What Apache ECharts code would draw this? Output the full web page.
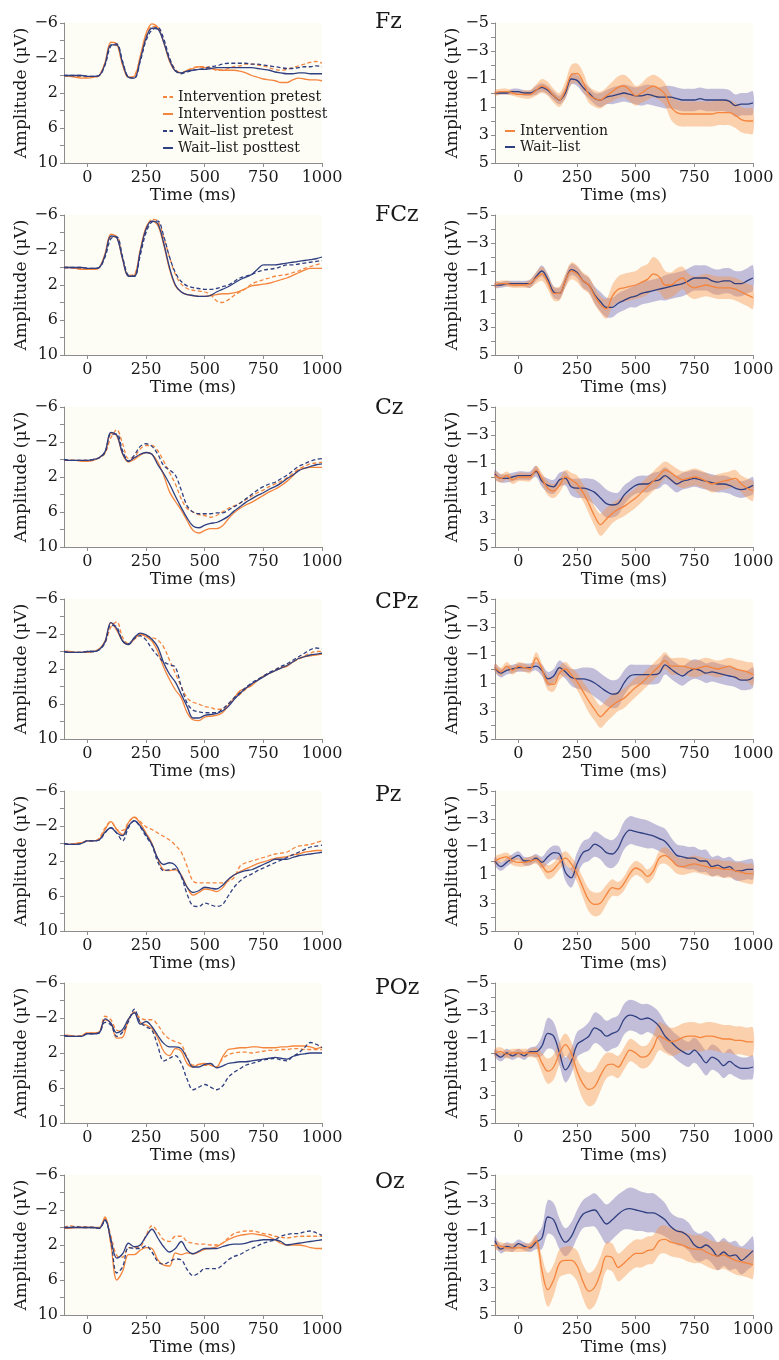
<!DOCTYPE html>
<html>
<head>
<meta charset="utf-8">
<title>ERP waveforms</title>
<script src="https://cdn.jsdelivr.net/npm/echarts@6/dist/echarts.min.js"></script>
<style>
  html, body { margin: 0; padding: 0; background: #fff; }
  #chart { width: 779px; height: 1360px; }
</style>
</head>
<body>
<div id="chart"></div>
<script>
// time points (ms)
const times = [-100, -75, -50, -25, 0, 25, 50, 75, 100, 125, 150, 175, 200, 225, 250, 275, 300, 325, 350, 375, 400,
  425, 450, 475, 500, 525, 550, 575, 600, 625, 650, 675, 700, 725, 750, 775, 800, 825, 850, 875, 900, 925, 950, 975, 1000];

const electrodes = ['Fz', 'FCz', 'Cz', 'CPz', 'Pz', 'POz', 'Oz'];
const xTicks = [0, 250, 500, 750, 1000];
const leftYLabels = [-6, -2, 2, 6, 10];
const leftYTicks = [-6, -4, -2, 0, 2, 4, 6, 8, 10];
const rightYLabels = [-5, -3, -1, 1, 3, 5];
const rightYTicks = [-5, -4, -3, -2, -1, 0, 1, 2, 3, 4, 5];
const groupNames = ['Intervention pretest', 'Intervention posttest', 'Wait–list pretest', 'Wait–list posttest'];
const diffNames = ['Intervention', 'Wait–list'];

// ---- left column: group averages (µV) ----
const fzIntPre = [0,0.1,0.1,0.1,0.2, 0.2,0,-1.4,-3.5, -3.4,-1.2,0.2,0, -2.0,-4.4,-5.6,-5.5, -3.9,-1.9,-0.7,-0.3, -0.6,-0.9,-1.0,-1.0, -0.9,-0.6,-0.6,-0.8, -1.0,-1.1,-1.3,-1.3, -1.2,-1.1,-0.9,-0.7, -0.6,-0.7,-0.9,-1.1, -1.3,-1.5,-1.6,-1.4];
const fzIntPost = [0,0.1,0.2,0.3,0.3, 0.2,0,-1.5,-3.8, -3.6,-1.2,0.2,0.1, -2.2,-4.8,-5.9,-5.5, -3.8,-1.6,-0.5,-0.3, -0.6,-0.8,-1.0,-0.9, -0.8,-0.7,-0.6,-0.6, -0.6,-0.5,-0.3,0, 0.2,0.4,0.5,0.6, 0.8,0.8,0.5,0.3, 0.4,0.5,0.5,0.6];
const fzWaitPre = [0,0,0,0,0.1, 0.1,0,-1.2,-3.4, -3.6,-1.6,0.2,0.3, -1.6,-4.0,-5.2,-5.5, -4.2,-2.0,-0.6,-0.2, -0.4,-0.6,-0.7,-0.8, -1.0,-1.1,-1.3,-1.4, -1.4,-1.4,-1.4,-1.3, -1.3,-1.2,-1.1,-1.0, -0.9,-0.8,-0.8,-0.9, -1.0,-1.0,-1.1,-1.0];
const fzWaitPost = [0,0,0,0,0.1, 0.1,0,-1.3,-3.5, -3.5,-1.4,0.2,0.3, -1.8,-4.3,-5.4,-5.3, -3.8,-1.8,-0.5,-0.3, -0.5,-0.6,-0.7,-0.7, -0.8,-0.9,-0.9,-0.9, -0.9,-0.9,-0.9,-0.9, -0.8,-0.7,-0.6,-0.4, -0.3,-0.2,-0.2,-0.3, -0.3,-0.2,-0.2,-0.2];

const fczIntPre = [0,0,0.1,0.1,0.2, 0.2,0,-1.3,-3.5, -3.5,-1.0,0.9,0.8, -1.8,-4.3,-5.5,-5.3, -3.4,-1.2,0.8,1.9, 2.4,2.6,2.7,2.8, 3.1,3.8,4.0,3.7, 3.2,2.8,2.4,1.9, 1.6,1.4,1.2,1.0, 0.9,0.8,0.6,0.4, 0.1,-0.1,-0.3,-0.5];
const fczIntPost = [0,0,0.1,0.2,0.2, 0.2,0,-1.6,-3.8, -3.5,-0.9,1.0,0.9, -2.0,-4.6,-5.3,-4.8, -2.6,0.2,2.1,2.8, 3.1,3.2,3.3,3.3, 3.2,3.1,3.0,3.0, 2.9,2.7,2.4,2.1, 2.0,1.9,1.8,1.6, 1.4,1.2,0.9,0.6, 0.3,0.1,0.1,0.1];
const fczWaitPre = [0,0,0,0,0.1, 0.1,0,-1.2,-3.3, -3.5,-1.2,0.9,1.0, -1.4,-4.0,-5.2,-5.3, -3.6,-1.2,0.6,1.6, 2.1,2.3,2.4,2.5, 2.5,2.4,2.2,2.0, 1.6,1.2,1.0,0.8, 0.5,0.3,0.2,0.1, -0.1,-0.3,-0.3,-0.4, -0.5,-0.6,-0.7,-0.8];
const fczWaitPost = [0,0,0,0,0.1, 0.1,0,-1.4,-3.6, -3.4,-1.0,1.0,1.0, -1.8,-4.4,-5.3,-5.0, -2.8,0,2.0,2.8, 3.1,3.2,3.3,3.3, 3.2,2.8,2.5,2.2, 1.8,1.4,1.1,0.8, 0.2,-0.3,-0.3,-0.3, -0.4,-0.5,-0.6,-0.7, -0.8,-0.9,-1.0,-1.2];

const czIntPre = [0,0.1,0.1,0.1,0.1, 0,-0.2,-0.7,-2.5, -3.4,-1.8,-0.1,-0.3, -1.2,-1.6,-1.6,-1.0, 0.2,1.5,2.8,4.5, 5.6,6.0,6.3,6.4, 6.6,6.4,6.0,5.6, 5.3,5.0,4.6,4.2, 3.8,3.5,3.1,2.8, 2.5,2.1,1.6,1.1, 0.8,0.5,0.4,0.3];
const czIntPost = [0.1,0.1,0.1,0.2,0.2, 0.1,-0.2,-0.8,-3.0, -2.7,-0.6,0.3,0, -0.5,-0.8,-0.6,0.3, 1.8,3.7,4.8,5.8, 7.0,8.1,8.4,8.1, 7.9,7.9,7.6,6.8, 6.1,5.6,5.2,4.9, 4.5,4.1,3.7,3.4, 3.0,2.5,1.9,1.2, 1.0,0.9,0.9,0.9];
const czWaitPre = [0,0.1,0.1,0.1,0.1, 0,-0.2,-0.8,-2.9, -2.9,-1.0,0.2,-0.5, -1.5,-1.8,-1.5,-0.6, 0.7,1.2,1.8,3.5, 5.3,6.0,6.2,6.2, 6.2,6.1,6.1,5.8, 5.4,5.0,4.5,4.0, 3.5,3.1,2.8,2.6, 2.2,1.8,1.3,0.8, 0.5,0.2,0,-0.1];
const czWaitPost = [0,0.1,0.1,0.1,0.1, 0,-0.2,-0.9,-3.1, -2.8,-0.7,0.2,-0.2, -0.6,-0.8,-0.6,0.6, 1.6,2.8,4.2,5.5, 6.7,7.6,7.8,7.5, 7.3,7.2,6.9,6.5, 5.9,5.4,4.9,4.5, 4.1,3.8,3.4,3.1, 2.7,2.2,1.8,1.3, 1.0,0.8,0.6,0.5];

const cpzIntPre = [0,0,0.1,0.1,0, 0,-0.3,-1.0,-2.8, -3.4,-1.6,-0.9,-1.5, -2.0,-1.8,-1.6,-1.3, -0.5,1.0,2.5,4.0, 5.3,5.8,6.0,6.3, 6.4,6.6,6.6,6.0, 5.4,4.9,4.3,3.8, 3.3,2.9,2.5,2.1, 1.8,1.6,1.2,0.9, 0.5,0.2,0,0];
const cpzIntPost = [0,0,0.1,0.1,0.1, 0,-0.3,-1.2,-3.3, -2.4,-1.2,-0.8,-1.4, -2.0,-1.7,-1.2,0, 1.8,3.2,4.4,5.3, 7.0,7.8,7.9,7.5, 7.4,7.3,7.0,6.2, 5.3,4.5,4.2,3.9, 3.3,2.8,2.5,2.2, 1.9,1.7,1.2,0.8, 0.6,0.5,0.4,0.3];
const cpzWaitPre = [0,0.1,0.1,0.1,0, 0,-0.2,-1.0,-3.0, -2.8,-1.2,-0.9,-1.5, -1.8,-1.3,-0.3,0.5, 1.2,1.5,1.8,4.0, 5.9,6.7,6.9,7.0, 7.0,7.0,6.6,6.0, 5.3,4.7,4.1,3.6, 3.2,2.8,2.4,2.1, 1.7,1.4,1.0,0.6, 0.2,-0.2,-0.4,-0.3];
const cpzWaitPost = [0,0.1,0.1,0.1,0, 0,-0.2,-1.1,-3.3, -2.6,-1.2,-0.8,-1.6, -2.1,-1.9,-1.4,-0.5, 1.3,2.6,3.5,4.9, 6.3,7.6,7.6,7.3, 7.2,7.1,6.8,6.3, 5.5,4.8,4.2,3.7, 3.3,2.9,2.5,2.2, 1.9,1.6,1.2,0.8, 0.6,0.4,0.3,0.2];

const pzIntPre = [0,0.1,0,-0.1,-0.3, -0.3,-0.6,-1.8,-2.5, -1.6,-1.5,-2.4,-3.0, -2.5,-1.9,-1.6,-1.2, -0.8,-0.4,0.2,1.0, 2.6,4.3,4.5,4.5, 4.5,4.5,4.5,4.3, 3.9,2.6,2.2,2.0, 1.8,1.6,1.4,1.2, 1.1,1.0,0.6,0.3, 0.2,0.1,-0.1,-0.3];
const pzIntPost = [0,0.1,0,-0.1,-0.3, -0.3,-0.5,-1.6,-2.5, -1.6,-1.0,-2.4,-3.0, -2.3,-1.2,0,1.8, 3.0,3.1,3.0,3.6, 5.0,5.9,5.6,5.2, 5.3,5.5,5.1,4.2, 3.6,3.2,2.9,2.6, 2.3,2.1,1.9,1.7, 1.6,1.5,1.3,1.2, 1.0,0.9,0.8,0.8];
const pzWaitPre = [0,0.1,0.1,0,-0.3, -0.3,-0.4,-1.2,-1.8, -1.2,-0.3,-1.8,-2.6, -1.9,-0.8,0.2,2.1, 3.1,3.0,2.9,3.8, 5.8,7.1,7.2,6.8, 7.0,7.2,7.0,6.0, 5.0,4.3,3.8,3.5, 3.1,2.8,2.5,2.2, 1.9,1.6,1.3,1.0, 0.7,0.4,0.3,0.2];
const pzWaitPost = [0,0.1,0.1,0,-0.3, -0.3,-0.4,-1.3,-1.8, -1.2,-0.9,-2.0,-2.6, -2.0,-1.0,0.1,1.7, 2.4,2.2,2.5,3.7, 5.0,5.6,5.4,5.0, 5.1,5.2,4.8,4.1, 3.6,3.3,3.1,3.0, 2.7,2.4,2.1,1.8, 1.8,1.8,1.6,1.4, 1.3,1.2,1.1,1.0];

const pozIntPre = [0,0,0.1,0,-0.3, -0.3,-0.4,-2.2,-1.8, -0.6,-0.5,-1.8,-2.6, -2.0,-1.8,-1.8,-1.2, -0.2,0.4,0.7,1.0, 2.5,3.4,3.3,3.4, 3.4,3.6,2.7,2.2, 2.0,1.9,1.9,2.0, 1.9,1.8,1.7,1.7, 1.6,1.6,1.5,1.5, 1.6,1.6,1.6,1.6];
const pozIntPost = [0,0,0.1,0,-0.3, -0.3,-0.4,-1.8,-1.4, 0.3,0.2,-1.8,-2.7, -1.5,-1.2,-0.8,0.3, 1.8,2.3,1.5,1.8, 3.2,3.6,3.3,3.2, 3.4,3.6,2.5,1.6, 1.5,1.4,1.4,1.3, 1.3,1.4,1.4,1.4, 1.3,1.3,1.2,1.2, 1.2,1.3,1.5,1.3];
const pozWaitPre = [0,0.1,0.1,0.1,-0.2, -0.2,-0.3,-1.5,-1.2, 0.1,-0.4,-1.6,-3.0, -1.5,-1.0,-0.6,1.2, 2.9,2.6,2.3,3.2, 5.0,6.2,5.9,5.6, 5.9,6.2,5.8,4.8, 4.2,3.8,3.4,3.2, 3.0,2.8,2.7,2.6, 2.8,2.9,2.4,2.0, 1.4,0.8,1.0,1.4];
const pozWaitPost = [0,0.1,0.1,0.1,-0.2, -0.2,-0.3,-1.9,-1.4, -0.3,-0.7,-1.9,-2.6, -1.3,-1.6,-1.0,0, 0.9,1.3,1.3,1.5, 2.6,3.6,3.6,3.3, 3.2,3.7,3.5,3.2, 3.1,3.0,3.0,2.9, 2.8,2.7,2.6,2.5, 2.6,2.7,2.4,2.2, 2.1,2.0,2.0,2.0];

const ozIntPre = [0,-0.2,-0.1,-0.1,-0.1, 0,0.1,-1.0,1.0, 3.2,3.4,2.3,2.3, 2.2,0.9,-0.2,0.5, 1.4,1.6,1.0,1.0, 1.6,1.8,1.9,1.9, 2.0,2.0,1.8,1.2, 0.7,0.5,0.4,0.4, 0.5,0.7,0.8,1.0, 1.1,1.2,1.1,1.0, 1.0,1.0,1.0,1.0];
const ozIntPost = [0.1,0.1,0,0,0, 0,0,-1.2,2.0, 6.0,5.0,3.1,3.1, 2.6,2.3,2.4,3.7, 4.3,4.4,2.9,3.1, 2.9,3.0,2.8,2.5, 2.4,2.2,1.8,1.4, 1.1,0.9,0.8,0.7, 0.8,0.9,1.1,1.4, 1.8,2.0,2.0,2.0, 2.1,2.3,2.4,2.4];
const ozWaitPre = [0,0,-0.1,0,0, 0,0.1,-0.8,1.5, 5.2,4.5,2.3,2.4, 2.4,2.1,2.8,3.9, 4.2,3.9,3.6,3.7, 4.8,5.5,5.2,4.7, 4.7,4.7,4.3,3.7, 3.3,3.1,2.7,2.4, 2.1,1.8,1.6,1.4, 1.0,0.8,0.7,0.7, 0.5,0.4,0.6,0.9];
const ozWaitPost = [0,0,0,0,0, 0,0.1,-0.9,1.4, 3.5,3.0,1.8,2.2, 2.0,1.0,0.2,1.2, 2.2,2.8,2.4,1.6, 2.6,3.0,2.7,2.4, 2.4,2.4,2.2,2.0, 1.9,1.9,1.8,1.6, 1.5,1.4,1.4,1.4, 1.6,2.0,1.9,1.8, 1.7,1.6,1.5,1.4];

// ---- right column: difference waves (post - pre) and CI half-widths ----
const fzInt = [0,-0.1,-0.1,0,0.1, 0.1,0.1,-0.2,-0.5, -0.3,0.2,0.5,-0.2, -1.3,-1.4,-0.8,0.1, 0.4,0.5,0.2,-0.1, -0.4,-0.5,-0.2,0.2, 0,-0.3,-0.5,-0.3, 0.1,1.0,1.4,1.5, 1.5,1.5,1.5,1.5, 1.5,1.4,1.4,1.4, 1.6,1.9,2.0,2.0];
const fzIntCi = [0.2,0.2,0.2,0.2,0.2, 0.3,0.3,0.4,0.5, 0.5,0.5,0.5,0.6, 0.7,0.7,0.7,0.6, 0.6,0.6,0.6,0.7, 0.8,0.8,0.8,0.7, 0.7,0.8,0.8,0.8, 0.8,0.9,0.9,0.9, 0.9,0.9,0.9,0.9, 0.9,0.9,0.9,0.9, 0.9,0.9,0.9,0.9];
const fzWait = [0,0,0,-0.1,-0.1, 0,0,-0.2,-0.4, -0.2,0.2,0.5,0, -1.0,-0.9,-0.4,0, 0.4,0.5,0.3,0.2, 0.1,0,0.1,0.2, 0.2,0.1,0.2,0.3, 0.3,0.3,0.4,0.5, 0.5,0.5,0.4,0.5, 0.5,0.5,0.5,0.6, 0.9,0.8,0.8,0.7];
const fzWaitCi = [0.1,0.1,0.1,0.2,0.2, 0.2,0.2,0.3,0.3, 0.3,0.3,0.3,0.4, 0.4,0.4,0.4,0.4, 0.4,0.5,0.5,0.6, 0.6,0.6,0.6,0.6, 0.7,0.7,0.7,0.7, 0.8,0.8,0.8,0.8, 0.8,0.8,0.8,0.8, 0.8,0.8,0.8,0.8, 0.8,0.8,0.8,0.8];

const fczInt = [0,-0.1,-0.1,0,0, 0,-0.1,-0.5,-0.8, -0.2,0.6,0.6,-0.3, -1.0,-0.8,-0.3,0, 0.8,1.4,1.7,0.8, 0.3,0.2,0.1,0, -0.2,-0.4,-0.8,-0.6, 0,0,-0.3,-0.5, 0,0.2,0.1,0, 0.1,0.2,0.2,0.2, 0.3,0.5,0.7,0.9];
const fczIntCi = [0.2,0.2,0.2,0.2,0.2, 0.2,0.3,0.4,0.5, 0.5,0.5,0.5,0.5, 0.6,0.6,0.6,0.6, 0.6,0.6,0.7,0.8, 0.9,1.0,1.0,1.0, 1.1,1.1,1.2,1.1, 1.0,0.9,0.9,0.8, 0.8,0.8,0.8,0.8, 0.8,0.8,0.8,0.8, 0.8,0.8,0.8,0.8];
const fczWait = [0,0,-0.1,-0.1,-0.1, -0.1,-0.1,-0.6,-1.0, -0.4,0.5,0.6,-0.3, -1.1,-0.9,-0.3,0, 0.7,1.2,1.6,1.6, 1.3,1.1,0.9,0.8, 0.6,0.5,0.4,0.3, 0.2,0.1,0,-0.1, -0.3,-0.5,-0.5,-0.5, -0.3,-0.2,-0.3,-0.3, -0.1,-0.1,-0.3,-0.5];
const fczWaitCi = [0.2,0.2,0.2,0.2,0.2, 0.2,0.3,0.3,0.4, 0.4,0.4,0.4,0.4, 0.4,0.4,0.5,0.5, 0.6,0.7,0.7,0.7, 0.7,0.7,0.7,0.8, 0.8,0.8,0.8,0.8, 0.9,0.9,0.9,0.9, 0.9,0.9,0.9,0.9, 0.9,0.9,0.9,0.9, 0.9,0.9,0.9,0.9];

const czInt = [-0.1,0.1,-0.1,0.2,0, 0,0,-0.5,0.1, 0.8,1.0,0.6,0, 0.2,0.5,1.1,1.9, 2.8,3.4,3.0,2.6, 2.3,2.1,1.8,1.5, 1.1,0.7,0.3,-0.1, -0.5,-0.3,0,0.2, 0.1,0,0.1,0.3, 0.5,0.4,0.3,0.2, 0.1,0.5,0.8,1.0];
const czIntCi = [0.3,0.3,0.3,0.3,0.3, 0.3,0.3,0.3,0.4, 0.5,0.5,0.5,0.5, 0.5,0.6,0.6,0.7, 0.7,0.8,0.8,0.7, 0.7,0.7,0.7,0.7, 0.7,0.7,0.7,0.7, 0.6,0.6,0.6,0.6, 0.6,0.6,0.6,0.6, 0.6,0.6,0.6,0.6, 0.6,0.6,0.7,0.7];
const czWait = [-0.2,0.1,0.1,0,-0.1, -0.1,-0.1,-0.4,0.3, 0.6,0.7,0.2,0.1, 0.7,0.8,0.8,0.9, 1.1,1.5,1.9,2.0, 1.9,1.3,0.9,0.6, 0.5,0.5,0.3,0.2, -0.1,0.2,0.5,0.3, 0.2,0.1,0.2,0.3, 0.4,0.5,0.5,0.6, 0.8,0.9,0.8,0.6];
const czWaitCi = [0.3,0.3,0.3,0.3,0.3, 0.3,0.3,0.4,0.4, 0.5,0.5,0.5,0.5, 0.6,0.7,0.7,0.8, 0.9,1.0,1.0,0.9, 0.8,0.7,0.6,0.6, 0.6,0.6,0.6,0.6, 0.6,0.6,0.6,0.6, 0.6,0.6,0.6,0.6, 0.6,0.6,0.6,0.6, 0.6,0.6,0.6,0.6];

const cpzInt = [-0.1,0.2,-0.2,0.1,-0.2, -0.1,0,-0.8,0, 1.0,1.1,0.3,0, 0.4,0.9,1.6,2.3, 2.9,3.4,3.0,2.6, 2.3,2.1,1.7,1.3, 1.0,0.6,0.2,-0.2, -0.6,-0.2,-0.2,-0.2, -0.1,0,-0.1,-0.2, -0.1,0,-0.1,-0.2, 0,0.1,0.2,0.4];
const cpzIntCi = [0.3,0.3,0.3,0.3,0.3, 0.3,0.3,0.4,0.4, 0.5,0.5,0.5,0.5, 0.5,0.6,0.7,0.8, 0.8,0.8,0.8,0.8, 0.7,0.7,0.7,0.7, 0.6,0.6,0.6,0.6, 0.6,0.6,0.6,0.6, 0.6,0.6,0.6,0.6, 0.6,0.6,0.6,0.6, 0.7,0.7,0.7,0.8];
const cpzWait = [-0.1,0.3,0.1,0,-0.1, -0.1,-0.1,-0.2,0.1, 0.7,0.5,-0.1,0.2, 0.6,0.7,0.7,0.8, 1.0,1.3,1.6,1.8, 1.7,1.0,0.5,0.4, 0.4,0.4,0.4,0.3, -0.3,0,0.3,0.5, 0.2,0,0.1,0.3, 0.2,0.3,0.4,0.5, 0.6,0.8,0.8,0.6];
const cpzWaitCi = [0.3,0.3,0.3,0.3,0.3, 0.3,0.3,0.3,0.4, 0.5,0.5,0.5,0.5, 0.6,0.7,0.8,0.9, 1.0,1.0,1.0,1.0, 1.0,0.9,0.8,0.7, 0.7,0.7,0.7,0.7, 0.7,0.7,0.7,0.7, 0.7,0.7,0.7,0.7, 0.7,0.7,0.7,0.7, 0.7,0.7,0.7,0.7];

const pzInt = [0,-0.2,-0.3,0,0.1, 0.1,0,-0.1,0.3, 0.8,0.6,0.1,-0.2, 0.2,0.9,1.9,2.8, 3.1,3.0,2.4,1.9, 2.0,1.6,0.9,0.5, 0.7,1.1,0.7,-0.2, -0.4,-0.1,0.3,0.4, 0.3,0.2,0.3,0.4, 0.5,0.5,0.6,0.6, 0.7,0.8,0.9,0.9];
const pzIntCi = [0.3,0.3,0.3,0.3,0.3, 0.3,0.3,0.3,0.4, 0.5,0.5,0.5,0.5, 0.5,0.6,0.7,0.8, 0.85,0.8,0.7,0.6, 0.5,0.5,0.5,0.5, 0.5,0.5,0.5,0.5, 0.6,0.6,0.6,0.6, 0.6,0.6,0.6,0.6, 0.6,0.6,0.6,0.6, 0.6,0.7,0.7,0.7];
const pzWait = [0,0.4,0.1,-0.2,-0.4, 0,0,-0.2,0.1, -0.3,-0.6,-0.5,0.8, 1.2,0.2,-0.6,-0.8, -1.2,-1.0,-0.6,-0.5, -0.9,-1.8,-2.2,-2.1, -2.0,-1.9,-1.8,-1.6, -1.4,-0.9,-0.4,-0.3, -0.2,-0.2,0,0, 0.4,0.3,0.5,0.4, 0.7,0.7,0.6,0.6];
const pzWaitCi = [0.3,0.3,0.3,0.3,0.3, 0.3,0.3,0.3,0.4, 0.5,0.5,0.5,0.6, 0.7,0.8,0.8,0.8, 0.9,0.9,1.0,1.0, 1.0,1.0,1.0,1.0, 1.0,1.0,0.9,0.9, 0.9,0.8,0.8,0.8, 0.8,0.8,0.8,0.8, 0.7,0.7,0.7,0.7, 0.7,0.7,0.7,0.7];

const pozInt = [0,-0.1,0.1,0,0, 0,0,0,0.7, 1.3,1.0,0,-0.6, 0,1.3,2.2,2.6, 2.4,1.6,0.9,0.8, 1.0,0.4,-0.2,0, 0.3,0.2,-0.4,-1.2, -1.0,-0.8,-0.9,-1.1, -1.2,-1.2,-1.1,-1.2, -1.2,-1.1,-1.0,-1.0, -0.9,-0.9,-0.8,-0.8];
const pozIntCi = [0.3,0.3,0.3,0.3,0.3, 0.3,0.3,0.4,0.7, 0.9,0.9,0.8,0.8, 0.8,0.9,1.1,1.2, 1.2,1.1,0.9,0.8, 0.8,0.8,0.8,0.8, 0.8,0.8,0.9,1.0, 1.0,1.0,1.0,1.0, 1.0,1.0,1.0,1.0, 1.0,1.0,1.0,1.0, 1.0,1.0,1.0,1.0];
const pozWait = [0,0.3,0,0.2,0, 0.2,-0.1,-0.1,-0.5, -1.4,-1.2,0,1.2, 0.6,-0.6,-0.9,-1.2, -1.8,-1.6,-1.2,-1.4, -1.6,-2.4,-2.7,-2.6, -2.4,-2.5,-2.3,-1.9, -1.2,-0.8,-0.4,-0.1, 0.1,-0.2,0.2,0.7, 0.3,0.5,0.9,0.6, 0.9,1.1,1.1,1.0];
const pozWaitCi = [0.3,0.3,0.3,0.3,0.3, 0.3,0.3,0.4,0.7, 1.1,1.0,0.9,0.9, 0.9,0.9,0.9,1.0, 1.1,1.1,1.1,1.1, 1.1,1.1,1.1,1.1, 1.1,1.0,1.0,1.0, 1.0,0.9,0.9,0.9, 0.9,0.9,0.9,0.9, 0.9,0.9,0.9,0.9, 0.8,0.8,0.8,0.8];

const ozInt = [0,0.1,0.2,0.2,0.2, 0.2,0.1,-0.3,1.8, 3.2,2.5,1.3,1.1, 1.1,1.5,2.6,3.3, 3.0,2.0,0.8,0.9, 1.6,1.3,0.9,0.6, 0.6,0.4,0.3,-0.3, -0.4,-0.2,-0.1,0, 0.2,0.3,0.3,0.5, 0.7,0.8,0.7,0.9, 1.1,1.2,1.3,1.4];
const ozIntCi = [0.3,0.3,0.3,0.3,0.3, 0.3,0.3,0.4,1.0, 1.2,1.1,1.0,1.0, 1.0,1.1,1.2,1.3, 1.3,1.2,1.0,1.0, 1.0,1.0,1.0,1.0, 1.0,1.0,1.0,1.0, 1.0,1.0,1.0,1.0, 1.0,1.0,1.0,1.0, 1.0,1.0,1.0,1.0, 1.0,1.0,1.0,1.0];
const ozWait = [-0.3,0.3,0.1,0.2,-0.1, 0.1,0.2,-0.2,-0.5, -2.0,-1.8,-0.8,-0.2, -0.6,-1.5,-2.2,-2.4, -2.5,-2.0,-1.5,-1.8, -2.2,-2.5,-2.6,-2.5, -2.4,-2.3,-2.3,-2.1, -1.8,-1.3,-1.0,-0.9, -0.6,0,0.2,0, 0.3,0.8,0.5,0.8, 0.7,1.1,0.8,0.4];
const ozWaitCi = [0.3,0.3,0.3,0.3,0.3, 0.3,0.3,0.5,0.8, 1.2,1.2,1.1,1.0, 1.0,1.0,1.0,1.1, 1.2,1.3,1.4,1.4, 1.4,1.4,1.5,1.5, 1.4,1.4,1.4,1.3, 1.2,1.0,1.0,1.0, 1.0,1.0,1.0,1.0, 1.0,1.0,1.0,1.0, 1.0,1.0,1.0,1.0];

const leftSets = [
  [fzIntPre, fzIntPost, fzWaitPre, fzWaitPost],
  [fczIntPre, fczIntPost, fczWaitPre, fczWaitPost],
  [czIntPre, czIntPost, czWaitPre, czWaitPost],
  [cpzIntPre, cpzIntPost, cpzWaitPre, cpzWaitPost],
  [pzIntPre, pzIntPost, pzWaitPre, pzWaitPost],
  [pozIntPre, pozIntPost, pozWaitPre, pozWaitPost],
  [ozIntPre, ozIntPost, ozWaitPre, ozWaitPost]
];
const rightSets = [
  [fzInt, fzIntCi, fzWait, fzWaitCi],
  [fczInt, fczIntCi, fczWait, fczWaitCi],
  [czInt, czIntCi, czWait, czWaitCi],
  [cpzInt, cpzIntCi, cpzWait, cpzWaitCi],
  [pzInt, pzIntCi, pzWait, pzWaitCi],
  [pozInt, pozIntCi, pozWait, pozWaitCi],
  [ozInt, ozIntCi, ozWait, ozWaitCi]
];

// layout + style
const FONT = 'DejaVu Serif';
const ORANGE = '#f5853d';
const NAVY = '#2f3f80';
const ORANGE_BAND = 'rgba(248, 145, 70, 0.42)';
const NAVY_BAND = 'rgba(105, 95, 178, 0.40)';
const SMOOTH = 0.35;
const rowTop = i => 23 + 192 * i;
const labelY = i => 24 + 193.3 * i;

const minus = v => String(v).replace('-', '\u2212');
const pairs = arr => times.map((t, i) => [t, arr[i]]);

const grids = [], xAxes = [], yAxes = [], series = [], graphics = [];

function addPanel(left, top, yMin, yMax, yLabels, yTicks) {
  const idx = grids.length;
  grids.push({ left: left, top: top, width: 258, height: 140, show: true, backgroundColor: '#fdfdf6', borderWidth: 0 });
  xAxes.push({
    type: 'value', gridIndex: idx, min: -100, max: 1000,
    name: 'Time (ms)', nameLocation: 'middle', nameGap: 24,
    nameTextStyle: { fontFamily: FONT, fontSize: 17, color: '#1a1a1a' },
    axisLine: { onZero: false, lineStyle: { color: '#8c8c8c', width: 1 } },
    axisTick: { show: true, customValues: xTicks, length: 4, lineStyle: { color: '#8c8c8c' } },
    axisLabel: { customValues: xTicks, formatter: v => String(v), fontFamily: FONT, fontSize: 16, color: '#1a1a1a', margin: 7 },
    splitLine: { show: false }
  });
  yAxes.push({
    type: 'value', gridIndex: idx, min: yMin, max: yMax, inverse: true,
    name: 'Amplitude (\u03bcV)', nameLocation: 'middle', nameGap: 33, nameRotate: 90,
    nameTextStyle: { fontFamily: FONT, fontSize: 17, color: '#1a1a1a' },
    axisLine: { show: true, onZero: false, lineStyle: { color: '#8c8c8c', width: 1 } },
    axisTick: { show: true, customValues: yTicks, length: 4, lineStyle: { color: '#8c8c8c' } },
    axisLabel: { customValues: yLabels, formatter: minus, fontFamily: FONT, fontSize: 16, color: '#1a1a1a', margin: 6 },
    splitLine: { show: false }
  });
  return idx;
}

// confidence band: one custom series, whole polygon drawn on the first item
function bandSeries(axisIdx, mean, ci, color) {
  const rows = times.map((t, j) => [t, +(mean[j] - ci[j]).toFixed(2), +(mean[j] + ci[j]).toFixed(2)]);
  return {
    type: 'custom', xAxisIndex: axisIdx, yAxisIndex: axisIdx, silent: true, z: 2,
    encode: { x: 0, y: [1, 2] },
    data: rows,
    renderItem: (params, api) => {
      if (params.dataIndex !== 0) return null;
      const upper = rows.map(r => api.coord([r[0], r[2]]));
      const lower = rows.map(r => api.coord([r[0], r[1]])).reverse();
      return {
        type: 'polygon',
        shape: { points: upper.concat(lower), smooth: SMOOTH },
        style: { fill: color, stroke: null, lineWidth: 0 }
      };
    }
  };
}

electrodes.forEach((el, i) => {
  const top = rowTop(i);

  // left: four condition averages
  const li = addPanel(64, top, -6, 10, leftYLabels, leftYTicks);
  const styles = [
    { color: ORANGE, type: [4, 2.5] },
    { color: ORANGE, type: 'solid' },
    { color: NAVY, type: [4, 2.5] },
    { color: NAVY, type: 'solid' }
  ];
  leftSets[i].forEach((arr, k) => {
    series.push({
      type: 'line', name: groupNames[k], xAxisIndex: li, yAxisIndex: li,
      data: pairs(arr), symbol: 'none', smooth: SMOOTH,
      lineStyle: { color: styles[k].color, type: styles[k].type, width: 1.3 },
      itemStyle: { color: styles[k].color },
      z: 3 + k
    });
  });

  // right: difference waves with confidence bands
  const ri = addPanel(495, top, -5, 5, rightYLabels, rightYTicks);
  const [iMean, iCi, wMean, wCi] = rightSets[i];
  series.push(bandSeries(ri, wMean, wCi, NAVY_BAND));
  series.push(bandSeries(ri, iMean, iCi, ORANGE_BAND));
  series.push({
    type: 'line', name: diffNames[1], xAxisIndex: ri, yAxisIndex: ri, data: pairs(wMean),
    symbol: 'none', smooth: SMOOTH, lineStyle: { color: NAVY, width: 1.3 }, itemStyle: { color: NAVY }, z: 4
  });
  series.push({
    type: 'line', name: diffNames[0], xAxisIndex: ri, yAxisIndex: ri, data: pairs(iMean),
    symbol: 'none', smooth: SMOOTH, lineStyle: { color: ORANGE, width: 1.3 }, itemStyle: { color: ORANGE }, z: 5
  });

  graphics.push({
    type: 'text', left: 375, top: labelY(i) - 13,
    style: { text: el, fontFamily: FONT, fontSize: 22, fill: '#1a1a1a' }
  });
});

const legendText = { fontFamily: FONT, fontSize: 14, color: '#1a1a1a' };
const chart = echarts.init(document.getElementById('chart'), null, { renderer: 'canvas' });
chart.setOption({
  animation: false,
  backgroundColor: '#ffffff',
  grid: grids,
  xAxis: xAxes,
  yAxis: yAxes,
  series: series,
  graphic: graphics,
  legend: [
    {
      data: groupNames, orient: 'vertical', left: 162, top: 90,
      itemWidth: 10, itemHeight: 8, itemGap: 3, padding: 0,
      itemStyle: { opacity: 0 },
      textStyle: legendText, selectedMode: false
    },
    {
      data: diffNames, orient: 'vertical', left: 504, top: 124,
      itemWidth: 10, itemHeight: 8, itemGap: 2, padding: 0,
      itemStyle: { opacity: 0 },
      textStyle: legendText, selectedMode: false
    }
  ]
});
</script>
</body>
</html>
